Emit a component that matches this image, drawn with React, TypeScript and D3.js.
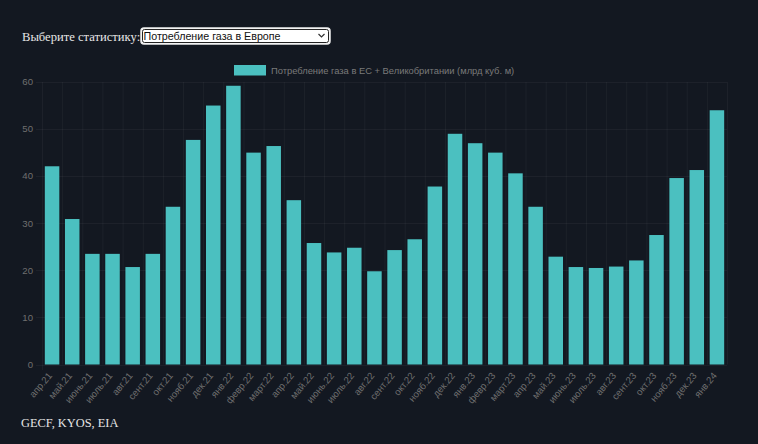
import React from "react";
import * as d3 from "d3";

const labels = [
  "апр.21","май.21","июнь.21","июль.21","авг.21","сент.21","окт.21","нояб.21","дек.21",
  "янв.22","февр.22","март.22","апр.22","май.22","июнь.22","июль.22","авг.22","сент.22","окт.22","нояб.22","дек.22",
  "янв.23","февр.23","март.23","апр.23","май.23","июнь.23","июль.23","авг.23","сент.23","окт.23","нояб.23","дек.23",
  "янв.24",
];
const values = [
  42.1, 30.9, 23.5, 23.5, 20.7, 23.5, 33.5, 47.7, 55.0,
  59.2, 45.0, 46.4, 34.9, 25.8, 23.8, 24.8, 19.8, 24.3, 26.6, 37.8, 49.0,
  47.0, 45.0, 40.6, 33.5, 22.9, 20.7, 20.5, 20.8, 22.1, 27.5, 39.6, 41.3,
  54.0,
];
const yTicks = [0, 10, 20, 30, 40, 50, 60];
const legendLabel = "Потребление газа в ЕС + Великобритании (млрд куб. м)";
const selectLabel = "Выберите статистику:";
const selectValue = "Потребление газа в Европе";
const sourceText = "GECF, KYOS, EIA";

const W = 758, H = 444;
const BG = "#131821";
const BAR = "#4bc0c0";
const GRID = "rgba(255,255,255,0.045)";
const TICK = "#6f6f6f";

export default function App() {
  const x = d3.scaleBand<string>().domain(labels).range([42, 727]).padding(0);
  const y = d3.scaleLinear().domain([0, 60]).range([364.5, 82]);
  const bw = x.bandwidth() * 0.72;
  const boundaries = labels.map((l) => x(l) as number).concat([727]);
  return (
    <div style={{ position: "fixed", left: 0, top: 0, width: W, height: H, background: BG }}>
      <svg width={W} height={H} style={{ display: "block" }}>
        <rect x={0} y={0} width={W} height={H} fill={BG} />
        {/* header */}
        <text x={22} y={40.5} fontFamily="'Liberation Serif', serif" fontSize={12.6} fill="#e6e6e6">
          {selectLabel}
        </text>
        <rect x={141} y={28} width={189} height={16} rx={3} fill="#ffffff" stroke="#f0f0f0" strokeWidth={1.5} />
        <rect x={142.5} y={29.5} width={186} height={13} rx={2} fill="none" stroke="#222" strokeWidth={1} />
        <text x={143.5} y={39.5} fontFamily="'Liberation Sans', Arial, sans-serif" fontSize={10.7} fill="#111">
          {selectValue}
        </text>
        <path d="M318.5,34 L321.5,37 L324.5,34" fill="none" stroke="#333" strokeWidth={1.2} />
        {/* legend */}
        <rect x={234.5} y={65.5} width={31} height={9.5} fill={BAR} stroke={BAR} />
        <text x={271} y={73.5} fontFamily="'Liberation Sans', Arial, sans-serif" fontSize={9.35} fill="#7a7a7a">
          {legendLabel}
        </text>
        {/* grid */}
        {boundaries.map((bx, i) => (
          <line key={"v" + i} x1={bx + 0.5} x2={bx + 0.5} y1={82} y2={i === 0 ? 370 : 364.5} stroke={GRID} />
        ))}
        {yTicks.map((t) => (
          <line key={"h" + t} x1={36} x2={727} y1={Math.round(y(t)) + 0.5} y2={Math.round(y(t)) + 0.5} stroke={GRID} />
        ))}
        {yTicks.map((t) => (
          <text key={"yt" + t} x={33} y={y(t) + 3.3} textAnchor="end" fontFamily="'Liberation Sans', Arial, sans-serif" fontSize={9.6} fill={TICK}>
            {t}
          </text>
        ))}
        {/* bars */}
        {labels.map((l, i) => {
          const cx = (x(l) as number) + x.bandwidth() / 2;
          return (
            <rect key={"b" + i} x={cx - bw / 2} y={y(values[i])} width={bw} height={y(0) - y(values[i])} fill={BAR} />
          );
        })}
        {/* x labels */}
        {labels.map((l, i) => {
          const cx = (x(l) as number) + x.bandwidth() / 2;
          return (
            <text key={"xl" + i} transform={`translate(${cx + 0.5},${376}) rotate(-50)`} textAnchor="end" fontFamily="'Liberation Sans', Arial, sans-serif" fontSize={9.6} fill={TICK}>
              {l}
            </text>
          );
        })}
        <text x={21} y={427} fontFamily="'Liberation Serif', serif" fontSize={12.4} fill="#e6e6e6">
          {sourceText}
        </text>
      </svg>
    </div>
  );
}
